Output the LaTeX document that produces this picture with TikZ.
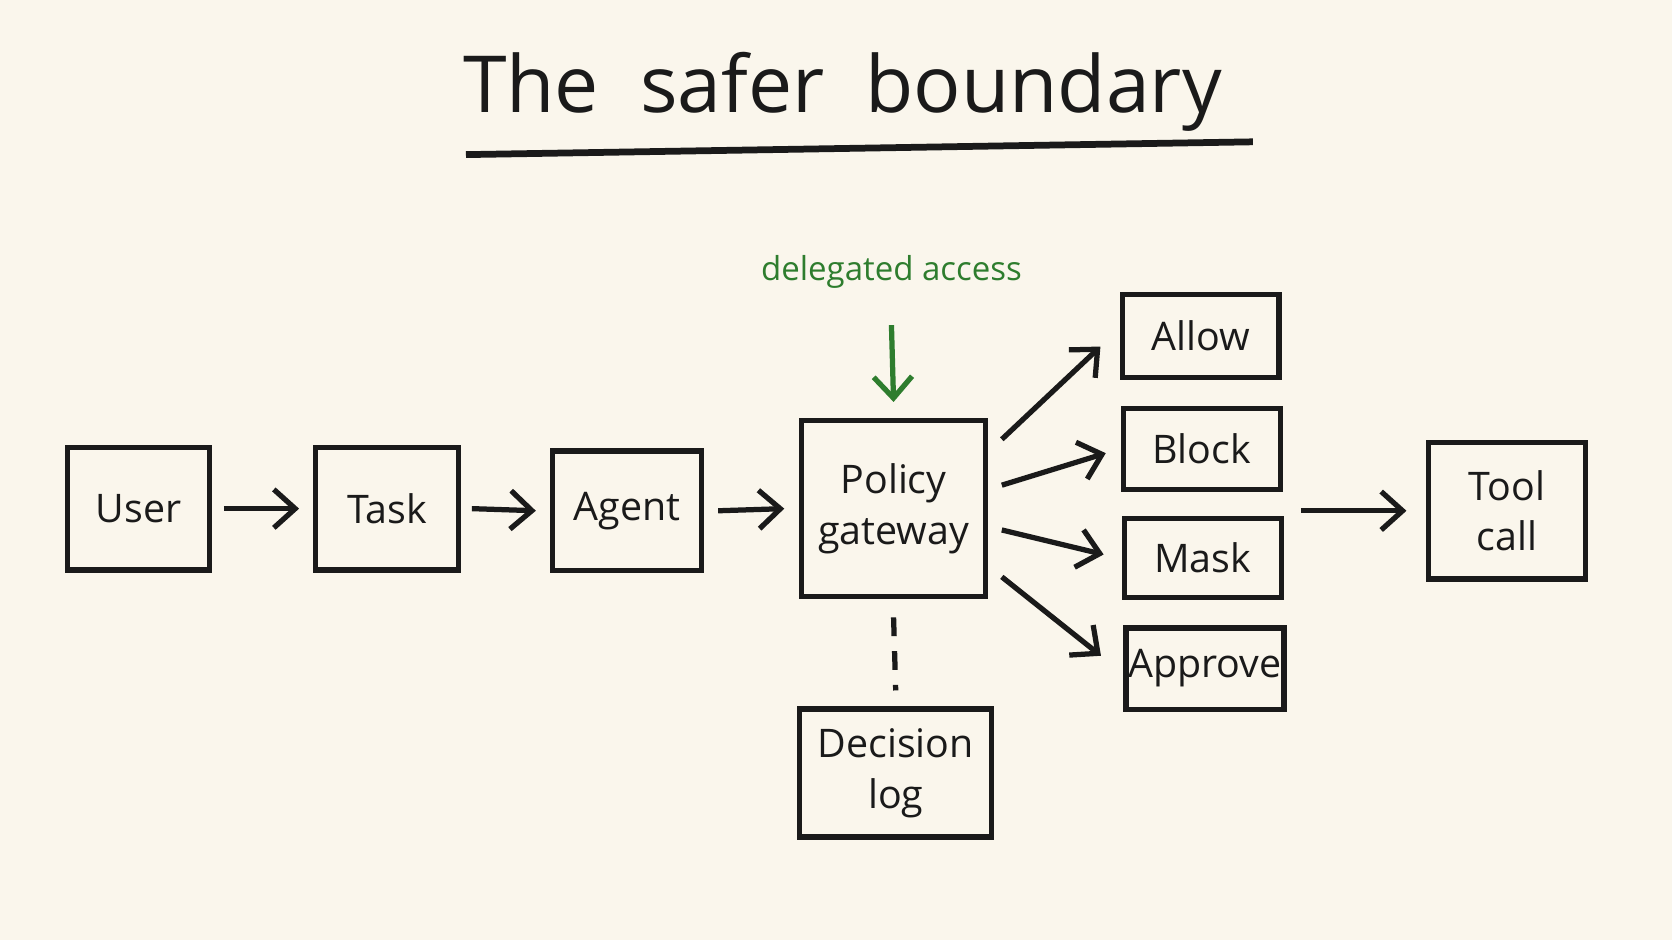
\documentclass[tikz,border=0pt]{standalone}
\usepackage{fontspec}
\setmainfont{Open Sans}
\usepackage{xcolor}
\definecolor{paperBg}{HTML}{FAF6EC}
\definecolor{inkDark}{HTML}{1A1A1A}
\definecolor{inkGreen}{HTML}{2E7D2E}
\usetikzlibrary{arrows.meta}
\tikzset{
    box/.style={
        draw=inkDark,
        rectangle,
        line width=1.4pt,
        align=center,
        font=\fontsize{10.5}{13.5}\selectfont,
        text=inkDark,
        inner sep=0pt
    },
    arrow/.style={
        -{Straight Barb[length=2mm,width=3.6mm]},
        line width=1.4pt,
        color=inkDark
    },
    note/.style={
        font=\fontsize{8.8}{11}\selectfont,
        text=inkGreen
    }
}

\begin{document}
\begin{tikzpicture}[x=0.01cm,y=-0.01cm]
    \fill[paperBg] (0,0) rectangle (1568,882);
    \useasboundingbox (0,0) rectangle (1568,882);

    % Title
    \node[font=\fontsize{21}{25}\selectfont, text=inkDark] (title) at (790,86) {The\ \ safer\ \ boundary};
    \draw[line width=1.8pt, inkDark] (437,145) -- (1175,133);

    % Main chain
    \node[box, minimum width=1.33cm, minimum height=1.15cm] (user) at (130,477) {User};
    \node[box, minimum width=1.34cm, minimum height=1.15cm] (task) at (363,477) {Task};
    \node[box, minimum width=1.40cm, minimum height=1.12cm] (agent) at (588,479) {Agent};
    \node[box, minimum width=1.72cm, minimum height=1.65cm] (policy) at (838,477) {Policy\\gateway};
    \node[box, minimum width=1.80cm, minimum height=1.20cm] (log) at (840,725) {Decision\\log};

    % Decisions
    \node[box, minimum width=1.47cm, minimum height=0.78cm] (allow) at (1126,315) {Allow};
    \node[box, minimum width=1.47cm, minimum height=0.76cm] (block) at (1127,421) {Block};
    \node[box, minimum width=1.47cm, minimum height=0.74cm] (mask) at (1128,523) {Mask};
    \node[box, minimum width=1.48cm, minimum height=0.76cm] (approve) at (1130,627) {Approve};
    \node[box, minimum width=1.47cm, minimum height=1.28cm] (tool) at (1413,479) {Tool\\call};

    % Access note
    \node[note] (access) at (836,255) {delegated access};

    % Arrows
    \draw[arrow] ([shift={(11,0)}]user.east) -- ([shift={(-13,0)}]task.west);
    \draw[arrow] ([shift={(10,0)}]task.east) -- ([shift={(-13,0)}]agent.west);
    \draw[arrow] ([shift={(13,0)}]agent.east) -- ([shift={(-14,0)}]policy.west);
    \draw[arrow, inkGreen] ([shift={(0,22)}]access.south) -- ([shift={(0,-15)}]policy.north);
    \draw[line width=1.4pt, dash pattern=on 5pt off 4pt, inkDark] ([shift={(0,17)}]policy.south) -- ([shift={(0,-15)}]log.north);
    \draw[arrow] ([shift={(13,-65)}]policy.east) -- ([shift={(-18,10)}]allow.west);
    \draw[arrow] ([shift={(13,-22)}]policy.east) -- ([shift={(-14,4)}]block.west);
    \draw[arrow] ([shift={(13,20)}]policy.east) -- ([shift={(-17,-3)}]mask.west);
    \draw[arrow] ([shift={(13,64)}]policy.east) -- ([shift={(-21,-12)}]approve.west);
    \draw[arrow] ([shift={(-117,0)}]tool.west) -- ([shift={(-18,0)}]tool.west);
\end{tikzpicture}
\end{document}
